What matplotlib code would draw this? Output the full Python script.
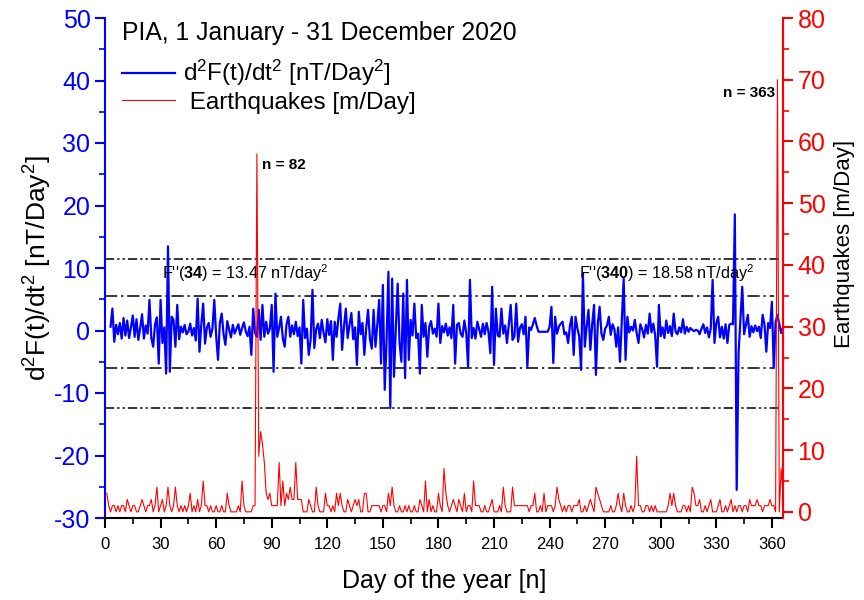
import matplotlib
matplotlib.use('Agg')
import numpy as np
import matplotlib.pyplot as plt
from matplotlib.lines import Line2D
from matplotlib.ticker import MultipleLocator

plt.rcParams['font.family'] = ['Liberation Sans', 'DejaVu Sans']
plt.rcParams['mathtext.fontset'] = 'custom'
plt.rcParams['mathtext.rm'] = 'Liberation Sans'
plt.rcParams['mathtext.it'] = 'Liberation Sans:italic'
plt.rcParams['mathtext.bf'] = 'Liberation Sans:bold'
plt.rcParams['axes.unicode_minus'] = False

# second derivative of F, days 3..366 [nT/day^2]
d2f = [
    0.6, 3.5, -1.8, 0.9, -0.6, 1.2, -1.3, 2.0, -0.8, 1.6,
    -1.2, 0.5, 2.4, -1.0, 1.8, -1.5, 0.4, 2.6, -1.3, 0.8,
    -0.5, 4.9, -1.2, -2.6, 1.0, 2.1, -5.3, 4.9, -2.0, 0.5,
    -6.9, 13.47, -6.6, 2.2, 1.7, -2.6, 4.1, -1.4, 0.6, -0.3,
    0.9, -0.6, -0.2, 1.1, -0.8, 0.4, -1.6, 5.1, -3.4, 1.0,
    4.3, -2.1, 0.5, 1.2, -1.0, 0.3, 4.9, -0.8, -4.7, 1.2,
    2.7, -0.6, -2.3, 1.5, 0.2, -1.1, 0.9, -0.5, 0.3, 1.0,
    -0.7, 0.4, 1.3, -0.2, -0.9, 0.6, -3.9, 3.5, -0.4, -1.0,
    3.3, -1.5, 4.1, -1.0, 1.4, -0.5, 0.3, 4.1, -6.6, 5.9,
    -1.0, 0.4, 2.2, -1.3, -2.6, 1.0, 2.2, -1.0, 0.8, -0.6,
    1.4, -0.9, 0.5, -5.3, 4.9, -1.2, 0.3, -3.9, -1.5, 6.5,
    -2.8, 0.2, 1.1, -1.2, 1.7, -0.4, -1.9, 1.8, -0.7, 1.5,
    -4.7, 1.4, -1.0, 2.0, 4.3, -3.1, 0.6, 3.5, -1.2, 0.9,
    2.8, -1.4, 0.5, -5.5, 3.0, -0.6, 1.2, -3.9, 0.4, 3.3,
    -1.3, -2.9, 3.3, -2.6, 1.0, 4.9, -5.3, 7.3, -9.5, -1.5,
    9.4, -12.4, 8.3, -7.4, 0.5, 7.5, -2.0, -5.0, 5.9, -7.6,
    8.1, -4.7, 1.7, -0.8, 4.3, -1.2, -0.5, -6.9, 4.1, -1.0,
    1.2, -4.2, 0.6, 1.5, -0.5, 0.3, -1.0, 4.3, -2.0, 0.7,
    -0.3, 1.1, -0.8, 0.5, -1.2, 4.1, -5.3, 0.9, 1.2, -0.5,
    -1.0, 1.6, -0.4, -5.8, 8.1, -1.2, 0.4, -1.3, 1.4, 0.2,
    -1.0, 1.1, -0.6, 1.2, -0.2, -3.6, 7.0, -5.5, 3.5, -0.8,
    -1.0, 3.5, -0.5, 0.8, -2.0, 1.0, 4.1, -1.5, -1.0, 4.3,
    -1.8, 0.4, 1.0, -0.6, 2.2, -5.8, 0.5, 0.1, 1.0, 2.0,
    0.8, -0.2, -0.2, -0.2, -0.2, -0.2, -0.2, 0.6, 3.8, -5.2,
    2.2, -0.5, 0.6, 1.1, 1.4, -0.6, -0.3, -2.0, 0.8, 2.2,
    -3.9, 2.2, 0.4, -1.0, -6.3, 9.1, -2.6, 0.6, 3.3, -3.1,
    1.0, 4.1, -7.1, 1.0, 3.8, -0.5, -1.5, 0.3, 0.8, 2.2,
    -0.7, 1.0, 0.2, -2.6, 0.5, -5.0, 1.5, 8.3, -4.7, 2.2,
    -0.3, 0.6, 0.0, 1.7, -0.4, -2.0, 1.0, 0.2, -1.1, 0.9,
    -0.5, 2.7, -0.3, 1.1, -0.8, -5.8, 4.1, -0.9, 0.5, -1.2,
    1.6, -0.4, 0.7, -0.9, 2.7, -0.2, -0.6, 0.5, -0.3, 1.8,
    -0.5, 0.6, -0.2, 0.4, 0.1, -0.1, 0.1, 0.0, -0.6, 0.3,
    1.0, -0.4, 0.5, -1.1, 0.3, 8.1, -2.0, 1.2, 2.2, -1.1,
    0.6, -1.3, 1.0, -2.0, 0.9, 1.1, 1.0, 18.58, -25.5, -3.7,
    1.5, 7.0, -0.6, 0.9, 2.5, -1.0, 0.7, -0.3, 0.8, -0.1,
    0.6, -1.2, 2.5, 1.0, -3.4, 1.2, 0.4, 4.6, -6.0, 1.3,
    2.5, 1.0, -0.4, 0.5,
]

# earthquakes per day, days 1..366
quakes = [
    3, 1, 0, 1, 1, 0, 1, 0, 1, 1,
    0, 2, 1, 0, 1, 1, 0, 0, 1, 2,
    1, 0, 1, 1, 2, 0, 1, 4, 0, 1,
    2, 0, 1, 4, 1, 0, 1, 4, 1, 0,
    1, 0, 1, 0, 1, 3, 0, 1, 0, 2,
    0, 1, 5, 1, 1, 0, 1, 0, 0, 1,
    0, 0, 1, 0, 0, 3, 1, 0, 0, 0,
    0, 1, 0, 5, 1, 0, 0, 0, 0, 1,
    1, 58, 9, 13, 11, 8, 3, 2, 3, 1,
    1, 1, 1, 8, 1, 5, 1, 3, 2, 4,
    2, 2, 8, 2, 2, 2, 0, 0, 0, 2,
    1, 0, 0, 4, 1, 0, 0, 0, 3, 1,
    1, 0, 1, 0, 3, 1, 3, 1, 0, 0,
    2, 1, 0, 1, 2, 1, 2, 0, 0, 3,
    3, 0, 0, 1, 1, 1, 1, 1, 0, 1,
    1, 0, 3, 1, 4, 1, 0, 0, 1, 0,
    0, 1, 0, 1, 0, 0, 1, 0, 0, 2,
    1, 0, 5, 0, 2, 0, 1, 0, 0, 3,
    1, 0, 7, 3, 1, 0, 1, 2, 1, 0,
    2, 1, 0, 3, 0, 1, 1, 0, 5, 1,
    1, 1, 0, 0, 1, 0, 0, 1, 2, 0,
    0, 0, 1, 0, 4, 1, 0, 0, 0, 4,
    1, 1, 1, 1, 1, 1, 1, 1, 0, 1,
    1, 3, 0, 0, 1, 0, 3, 0, 1, 1,
    1, 0, 1, 4, 2, 1, 0, 1, 0, 1,
    1, 0, 1, 1, 1, 2, 0, 0, 1, 0,
    1, 2, 1, 0, 4, 3, 2, 1, 0, 0,
    0, 0, 1, 0, 0, 1, 3, 1, 0, 3,
    1, 0, 0, 1, 0, 1, 9, 1, 1, 0,
    0, 1, 1, 0, 1, 0, 1, 0, 0, 0,
    0, 0, 0, 1, 3, 1, 3, 1, 0, 0,
    0, 1, 1, 0, 1, 0, 4, 3, 1, 1,
    2, 0, 0, 1, 0, 1, 2, 0, 0, 0,
    1, 2, 0, 0, 1, 0, 1, 2, 0, 1,
    0, 1, 1, 0, 1, 1, 0, 2, 1, 1,
    1, 2, 1, 1, 0, 1, 1, 1, 2, 1,
    1, 0, 70, 0, 7, 3,
]

# threshold levels [nT/day^2]
outer_levels = [11.4, -12.35]
inner_levels = [5.6, -6.05]

days_f = np.arange(3, 3 + len(d2f))
days_q = np.arange(1, 1 + len(quakes))

fig = plt.figure(figsize=(8.64, 6.0), dpi=100)
ax = fig.add_axes([105 / 864, 82 / 600, 678 / 864, 500 / 600])
ax2 = ax.twinx()

ax.plot(days_f, d2f, color='#0000ff', lw=1.6, zorder=3)
ax.hlines(outer_levels, 0, 364, colors='black', lw=1.1, linestyles=[(0, (6, 2, 1.5, 2, 1.5, 2))], zorder=2)
ax.hlines(inner_levels, 0, 361, colors='black', lw=1.1, linestyles=[(0, (8, 2.5, 1.5, 2.5))], zorder=2)
ax2.plot(days_q, quakes, color='#ff0000', lw=0.8)

ax.set_xlim(0, 366)
ax.set_ylim(-30, 50)
ax2.set_ylim(-1, 80)

ax.xaxis.set_major_locator(MultipleLocator(30))
ax.xaxis.set_minor_locator(MultipleLocator(15))
ax.yaxis.set_major_locator(MultipleLocator(10))
ax.yaxis.set_minor_locator(MultipleLocator(5))
ax2.yaxis.set_major_locator(MultipleLocator(10))
ax2.yaxis.set_minor_locator(MultipleLocator(5))

ax.spines['top'].set_visible(False)
ax2.spines['top'].set_visible(False)
ax.spines['left'].set_color('#0000ff')
ax2.spines['left'].set_visible(False)
ax2.spines['right'].set_color('#ff0000')
for sp in ['left', 'bottom']:
    ax.spines[sp].set_linewidth(1.5)
ax2.spines['right'].set_linewidth(1.5)
ax2.spines['bottom'].set_visible(False)

ax.tick_params(axis='x', which='major', length=7, width=1.5, labelsize=12, pad=7)
ax.tick_params(axis='x', which='minor', length=4, width=1.2)
ax.tick_params(axis='y', which='major', length=7, width=1.5, colors='#0000ff', labelsize=18)
ax.tick_params(axis='y', which='minor', length=4, width=1.2, colors='#0000ff')
ax2.tick_params(axis='y', which='major', length=7, width=1.5, colors='#ff0000', labelsize=18)
ax2.tick_params(axis='y', which='minor', length=4, width=1.2, colors='#ff0000')

ax.set_xlabel('Day of the year [n]', fontsize=18, labelpad=12)
ax.set_ylabel(r'd$^2$F(t)/dt$^2$ [nT/Day$^2$]', fontsize=19, labelpad=0)
ax2.set_ylabel('Earthquakes [m/Day]', fontsize=16)
ax2.yaxis.set_label_coords(1.075, 0.548)

ax.text(31, 9.2, r"F''($\mathbf{34}$) = 13.47 nT/day$^2$", fontsize=11.7, va='center', zorder=4)
ax.text(256, 9.2, r"F''($\mathbf{340}$) = 18.58 nT/day$^2$", fontsize=11.7, va='center', zorder=4)
ax.text(85, 26.5, 'n = 82', fontsize=11, fontweight='bold', va='center')
ax.text(362, 38, 'n = 363', fontsize=11, fontweight='bold', va='center', ha='right')

fig.text(122 / 864, 1 - 33 / 600, 'PIA, 1 January - 31 December 2020', fontsize=17.8, va='center')

handles = [Line2D([], [], color='#0000ff', lw=1.6), Line2D([], [], color='#ff0000', lw=0.8)]
labels = [r'd$^2$F(t)/dt$^2$ [nT/Day$^2$]', ' Earthquakes [m/Day]']
leg = ax.legend(handles, labels, loc='upper left', bbox_to_anchor=(122 / 864, 1 - 58 / 600),
                bbox_transform=fig.transFigure, frameon=False, fontsize=17.5,
                borderpad=0, borderaxespad=0, handlelength=2.2, handletextpad=0.3, labelspacing=0.15)

fig.savefig('out.png', dpi=100)
